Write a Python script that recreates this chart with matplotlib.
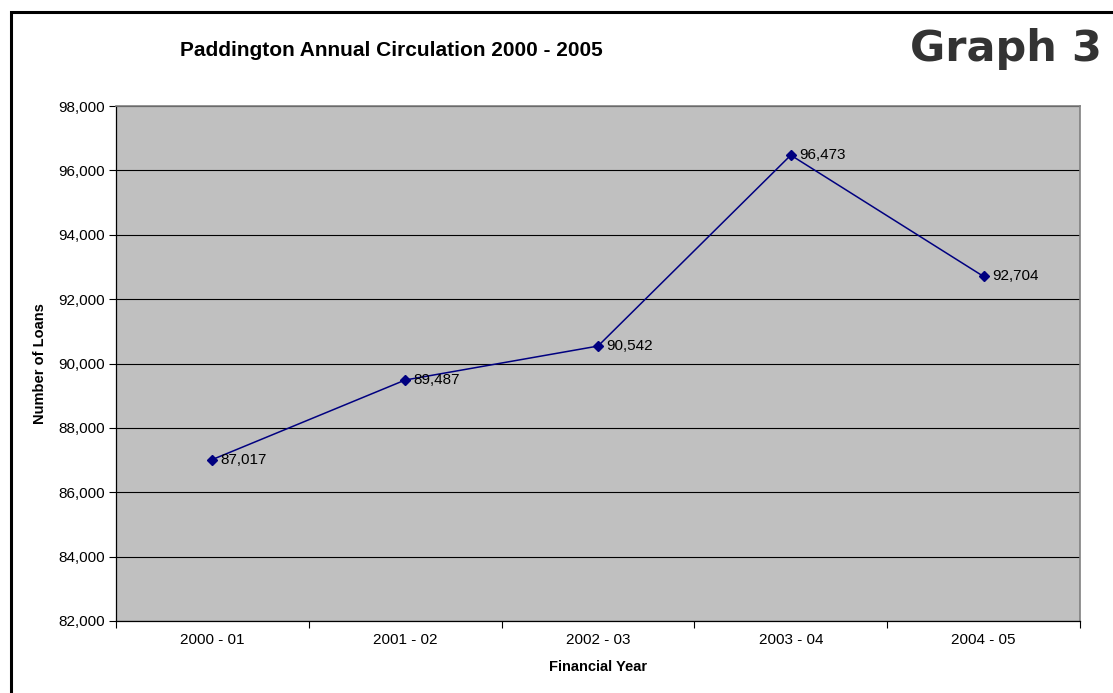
import matplotlib.pyplot as plt
from matplotlib.patches import Rectangle
from matplotlib.ticker import FuncFormatter, FixedLocator

years = ["2000 - 01", "2001 - 02", "2002 - 03", "2003 - 04", "2004 - 05"]
loans = [87017, 89487, 90542, 96473, 92704]

plt.rcParams["font.family"] = ["Liberation Sans", "DejaVu Sans"]

W, H = 1113, 693
fig = plt.figure(figsize=(W / 100, H / 100), dpi=100)

# outer frame (left and top edges)
fig.patches.append(Rectangle((11 / W, -0.1), 2.0, (H - 12) / H + 0.1,
                             transform=fig.transFigure, fill=False,
                             edgecolor="black", linewidth=2.2))

ax = fig.add_axes([116 / W, 1 - 621 / H, (1080 - 116) / W, (621 - 106) / H])
ax.set_facecolor("#c0c0c0")

x = list(range(len(years)))
ax.plot(x, loans, color="#000080", linewidth=1.1, marker="D", markersize=5.5,
        markerfacecolor="#000080", markeredgecolor="#000080")
for xi, v in zip(x, loans):
    ax.annotate(f"{v:,}", (xi, v), xytext=(6, 0), textcoords="offset points",
                va="center", ha="left", fontsize=11)

ax.set_xlim(-0.5, len(years) - 0.5)
ax.set_ylim(82000, 98000)
ax.set_yticks(range(82000, 98001, 2000))
ax.yaxis.set_major_formatter(FuncFormatter(lambda v, p: f"{int(v):,}"))
ax.grid(axis="y", color="black", linewidth=0.8)
ax.set_axisbelow(True)

# category ticks sit on the boundaries, labels in the middle
ax.xaxis.set_major_locator(FixedLocator([i - 0.5 for i in range(len(years) + 1)]))
ax.xaxis.set_minor_locator(FixedLocator(x))
ax.set_xticklabels([])
ax.set_xticklabels(years, minor=True)
ax.tick_params(axis="x", which="major", length=5, direction="out", width=0.8)
ax.tick_params(axis="x", which="minor", length=0, pad=9, labelsize=11)
ax.tick_params(axis="y", length=5, direction="out", width=0.8, labelsize=11, pad=3)

for s in ("left", "bottom"):
    ax.spines[s].set_color("black")
    ax.spines[s].set_linewidth(0.9)
for s in ("top", "right"):
    ax.spines[s].set_color("#808080")
    ax.spines[s].set_linewidth(1.2)

ax.set_xlabel("Financial Year", fontsize=10.5, fontweight="bold", labelpad=9)
ax.set_ylabel("Number of Loans", fontsize=10.5, fontweight="bold", labelpad=8)

fig.text(391 / W, 1 - 50 / H, "Paddington Annual Circulation 2000 - 2005",
         ha="center", va="center", fontsize=15, fontweight="bold")
fig.text(1102 / W, 1 - 49 / H, "Graph 3", ha="right", va="center",
         fontsize=31, fontweight="heavy", color="#333333",
         family=["DejaVu Sans"])

fig.savefig("out.png", dpi=100)
